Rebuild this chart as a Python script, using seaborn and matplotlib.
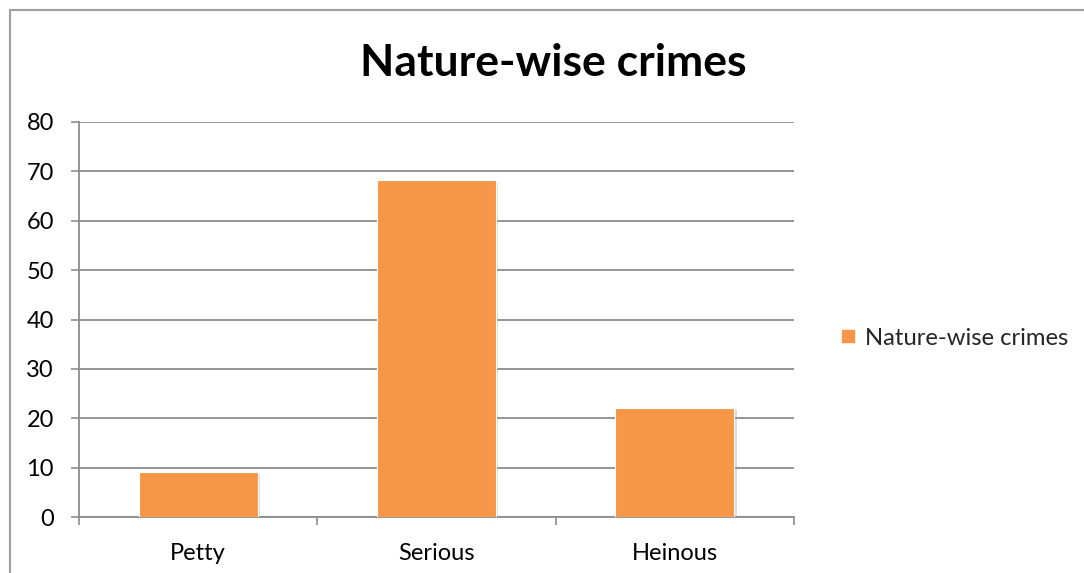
import matplotlib
matplotlib.use("Agg")
import matplotlib.pyplot as plt
import matplotlib.patheffects as pe
from matplotlib.patches import Rectangle
from matplotlib.lines import Line2D
import seaborn as sns
import pandas as pd

# Share of crimes by nature (%)
categories = ["Petty", "Serious", "Heinous"]
values = [9.1, 68.3, 22.0]
series_name = "Nature-wise crimes"
y_ticks = [0, 10, 20, 30, 40, 50, 60, 70, 80]

BAR_COLOR = "#F79646"
GRID_COLOR = "#8C8C8C"

sns.set_theme(style="white")
plt.rcParams["font.family"] = ["Lato", "DejaVu Sans"]

df = pd.DataFrame({"category": categories, "value": values})

fig = plt.figure(figsize=(10.84, 5.73), dpi=100)
ax = fig.add_axes([79 / 1084, 56 / 573, 715 / 1084, 395 / 573])

sns.barplot(data=df, x="category", y="value", color=BAR_COLOR, saturation=1,
            width=0.5, ax=ax, edgecolor="white", linewidth=0.8, zorder=3)

for bar in ax.patches:
    bar.set_path_effects([
        pe.SimplePatchShadow(offset=(1.5, -1.5), shadow_rgbFace="#999999", alpha=0.35),
        pe.Normal(),
    ])

ax.set_ylim(0, 80)
ax.set_xlim(-0.5, 2.5)
ax.set_yticks(y_ticks)
ax.set_yticklabels([str(t) for t in y_ticks])
ax.yaxis.grid(True, color=GRID_COLOR, linewidth=1.3, zorder=0)
ax.set_axisbelow(True)

# Category boundaries get the tick marks; labels sit centred without marks
ax.set_xticks([-0.5, 0.5, 1.5, 2.5], minor=True)
ax.tick_params(axis="x", which="major", length=0, pad=18.5, labelsize=17, labelcolor="black")
ax.tick_params(axis="x", which="minor", length=6, width=1.2, color=GRID_COLOR, direction="out", bottom=True)
ax.tick_params(axis="y", length=6, width=1.2, color=GRID_COLOR, direction="out", left=True,
               pad=12, labelsize=17, labelcolor="black")

for side in ["top", "right"]:
    ax.spines[side].set_visible(False)
for side in ["left", "bottom"]:
    ax.spines[side].set_color(GRID_COLOR)
    ax.spines[side].set_linewidth(1.3)

ax.set_xlabel("")
ax.set_ylabel("")

fig.text(553 / 1084, 1 - 63 / 573, series_name, ha="center", va="center",
         fontsize=32, fontweight="bold", color="black")

handle = Line2D([], [], marker="s", linestyle="none", markersize=8.5,
                markerfacecolor=BAR_COLOR, markeredgecolor=BAR_COLOR)
fig.legend([handle], [series_name], loc="center left",
           bbox_to_anchor=(830 / 1084, 1 - 338 / 573), frameon=False,
           fontsize=17.2, handletextpad=0.35, borderaxespad=0, handlelength=0.7)

# Chart-area border running off the right and bottom edges
fig.add_artist(Rectangle((10 / 1084, -0.1), 1.2, 1.1 - 10.5 / 573,
                         transform=fig.transFigure, fill=False,
                         edgecolor="#A0A0A0", linewidth=1.5))

fig.savefig("out.png", dpi=100)
